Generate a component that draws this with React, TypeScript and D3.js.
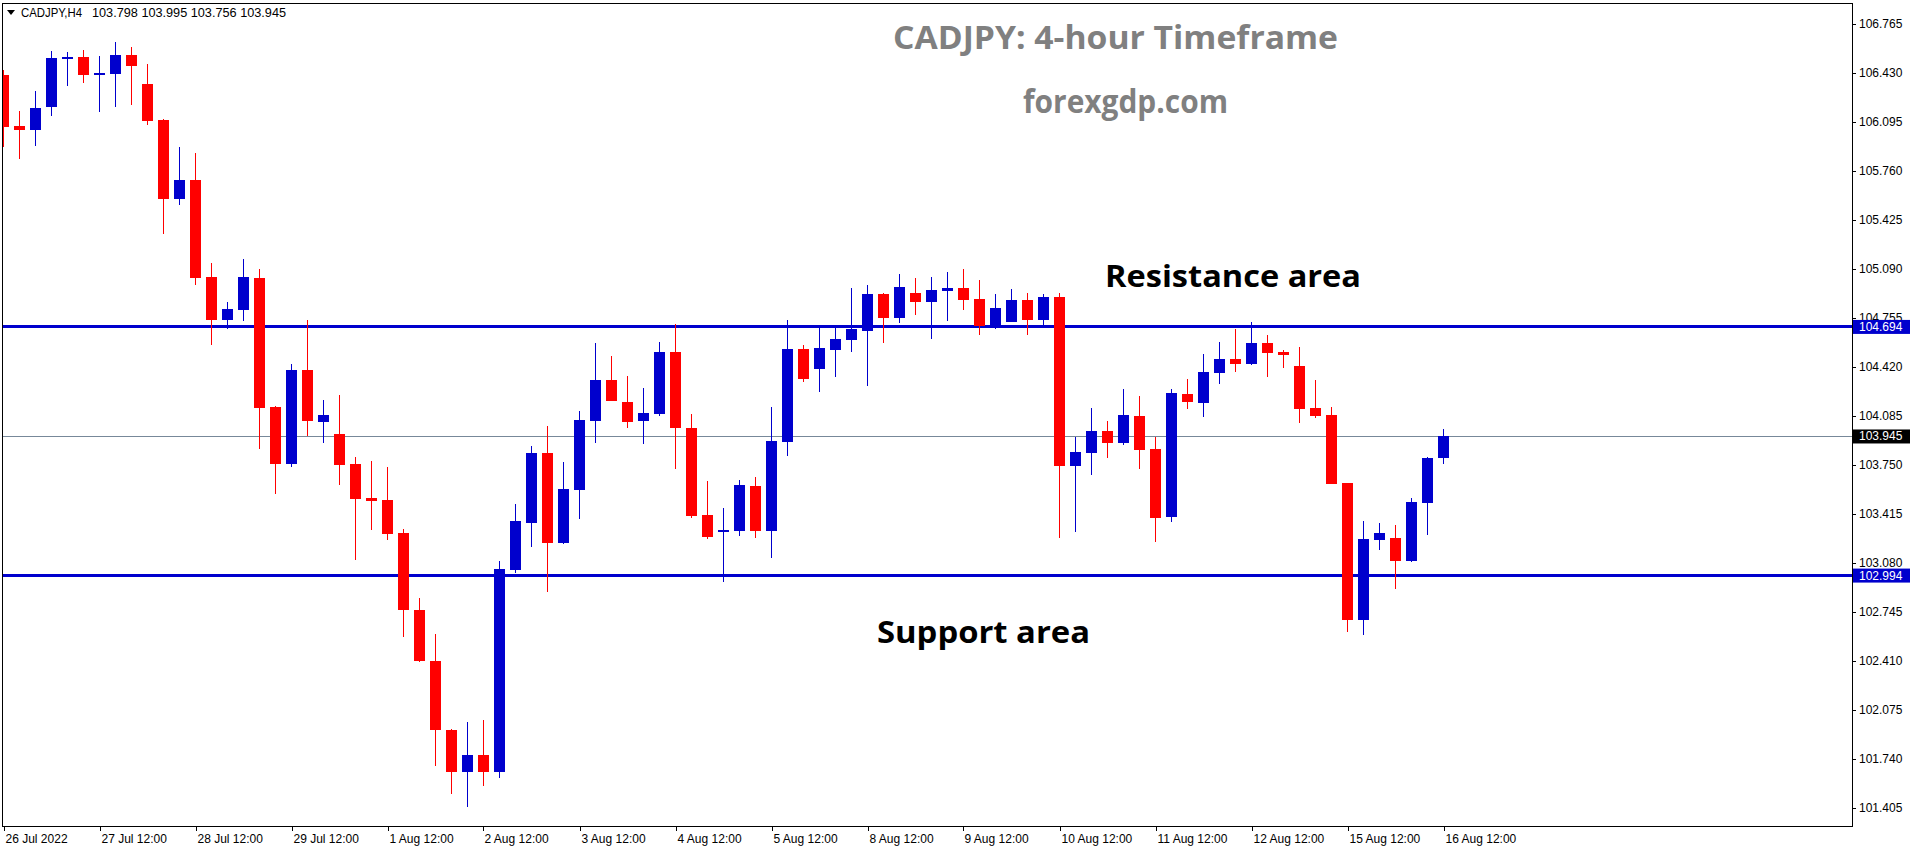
import React from "react";
import * as d3 from "d3";

// CADJPY H4 candles, 26 Jul 2022 12:00 .. 16 Aug 2022 12:00
const opens = [
  106.416, 106.068, 106.04, 106.198, 106.526, 106.539, 106.416, 106.423, 106.553, 106.355,
  106.109, 105.571, 105.699, 105.036, 104.744, 104.81, 105.029, 104.147, 103.76, 104.4,
  104.045, 103.963, 103.758, 103.525, 103.511, 103.286, 102.76, 102.411, 101.939, 101.654,
  101.768, 101.654, 103.035, 103.356, 103.833, 103.22, 103.582, 104.053, 104.332, 104.181,
  104.053, 104.101, 104.523, 104.004, 103.409, 103.295, 103.301, 103.607, 103.302, 103.91,
  104.544, 104.409, 104.539, 104.607, 104.669, 104.92, 104.758, 104.926, 104.867, 104.942,
  104.961, 104.885, 104.701, 104.73, 104.879, 104.742, 104.899, 103.746, 103.835, 103.983,
  103.903, 104.086, 103.86, 103.397, 104.236, 104.177, 104.382, 104.475, 104.443, 104.585,
  104.523, 104.427, 104.14, 104.092, 103.628, 102.689, 103.24, 103.252, 103.097, 103.493,
  103.798,
];
const highs = [
  106.451, 106.17, 106.307, 106.583, 106.574, 106.589, 106.546, 106.642, 106.608, 106.492,
  106.116, 105.924, 105.883, 105.131, 104.865, 105.159, 105.09, 104.154, 104.441, 104.742,
  104.195, 104.229, 103.805, 103.778, 103.737, 103.313, 102.842, 102.596, 101.946, 101.994,
  102.008, 103.095, 103.484, 103.881, 104.017, 103.771, 104.12, 104.585, 104.496, 104.359,
  104.277, 104.591, 104.714, 104.099, 103.641, 103.457, 103.648, 103.669, 104.147, 104.742,
  104.571, 104.696, 104.696, 104.961, 104.981, 104.925, 105.056, 105.029, 105.036, 105.07,
  105.09, 105.015, 104.92, 104.954, 104.926, 104.92, 104.926, 103.942, 104.14, 104.051,
  104.27, 104.222, 103.944, 104.27, 104.339, 104.509, 104.591, 104.68, 104.728, 104.639,
  104.537, 104.557, 104.332, 104.147, 103.63, 103.368, 103.354, 103.341, 103.525, 103.806,
  103.995,
];
const lows = [
  105.926, 105.842, 105.931, 106.136, 106.341, 106.362, 106.164, 106.198, 106.211, 106.075,
  105.33, 105.528, 104.981, 104.571, 104.68, 104.735, 103.86, 103.552, 103.737, 103.949,
  103.903, 103.616, 103.101, 103.306, 103.238, 102.575, 102.406, 101.689, 101.504, 101.415,
  101.552, 101.613, 103.013, 103.192, 102.885, 103.213, 103.384, 103.903, 104.188, 104.006,
  103.896, 104.088, 103.725, 103.39, 103.247, 102.953, 103.267, 103.254, 103.117, 103.812,
  104.32, 104.25, 104.354, 104.525, 104.293, 104.585, 104.723, 104.778, 104.614, 104.737,
  104.812, 104.641, 104.68, 104.728, 104.641, 104.708, 103.254, 103.295, 103.684, 103.8,
  103.889, 103.725, 103.226, 103.363, 104.136, 104.081, 104.306, 104.388, 104.436, 104.354,
  104.416, 104.04, 104.074, 103.62, 102.611, 102.591, 103.172, 102.905, 103.09, 103.274,
  103.756,
];
const closes = [
  106.063, 106.043, 106.191, 106.533, 106.541, 106.416, 106.43, 106.553, 106.478, 106.102,
  105.571, 105.699, 105.029, 104.744, 104.817, 105.036, 104.14, 103.76, 104.4, 104.051,
  104.092, 103.753, 103.52, 103.507, 103.281, 102.762, 102.413, 101.935, 101.654, 101.768,
  101.654, 103.04, 103.368, 103.833, 103.22, 103.587, 104.058, 104.332, 104.19, 104.047,
  104.106, 104.523, 104.006, 103.404, 103.261, 103.304, 103.614, 103.302, 103.915, 104.544,
  104.341, 104.55, 104.612, 104.68, 104.92, 104.758, 104.967, 104.867, 104.947, 104.961,
  104.881, 104.703, 104.824, 104.879, 104.742, 104.899, 103.746, 103.84, 103.983, 103.903,
  104.092, 103.855, 103.39, 104.243, 104.183, 104.386, 104.475, 104.443, 104.585, 104.518,
  104.505, 104.136, 104.088, 103.623, 102.689, 103.245, 103.286, 103.097, 103.498, 103.799,
  103.945,
];

const timeLabels = [
  "26 Jul 2022", "27 Jul 12:00", "28 Jul 12:00", "29 Jul 12:00", "1 Aug 12:00",
  "2 Aug 12:00", "3 Aug 12:00", "4 Aug 12:00", "5 Aug 12:00", "8 Aug 12:00",
  "9 Aug 12:00", "10 Aug 12:00", "11 Aug 12:00", "12 Aug 12:00", "15 Aug 12:00",
  "16 Aug 12:00",
];
const priceTicks = [
  106.765, 106.43, 106.095, 105.76, 105.425, 105.09, 104.755, 104.42, 104.085,
  103.75, 103.415, 103.08, 102.745, 102.41, 102.075, 101.74, 101.405,
];
const levels = [104.694, 102.994];
const lastPrice = 103.945;

const BULL = "#0000cd";
const BEAR = "#ff0000";
const axisFont = "'Liberation Sans', Arial, sans-serif";
const bigFont = "'Open Sans', 'Noto Sans', sans-serif";

const left = 2;
const top = 3;
const right = 1852;
const bottom = 826;

const App: React.FC = () => {
  const x = d3.scaleLinear().domain([0, 90]).range([3.5, 1443.5]);
  const y = d3.scaleLinear().domain([101.405, 106.765]).range([808, 24]);
  const bodyW = 11;

  const candles = opens.map((o, i) => ({
    i,
    o,
    h: highs[i],
    l: lows[i],
    c: closes[i],
  }));

  return (
    <svg
      width={1916}
      height={850}
      style={{ position: "absolute", left: 0, top: 0, background: "#fff" }}
    >
      <defs>
        <clipPath id="plot">
          <rect x={left + 1} y={top + 1} width={right - left - 1} height={bottom - top - 1} />
        </clipPath>
      </defs>
      <rect width={1916} height={850} fill="#fff" />

      {/* levels */}
      <g clipPath="url(#plot)" shapeRendering="crispEdges">
        <line x1={left} x2={right} y1={y(lastPrice)} y2={y(lastPrice)} stroke="#778899" strokeWidth={1} />
        {levels.map((lv) => (
          <line key={lv} x1={left} x2={right} y1={y(lv)} y2={y(lv)} stroke={BULL} strokeWidth={3} />
        ))}
      </g>

      {/* candles */}
      <g clipPath="url(#plot)" shapeRendering="crispEdges">
        {candles.map((d) => {
          const col = d.c >= d.o ? BULL : BEAR;
          const cx = x(d.i);
          const yTop = y(Math.max(d.o, d.c));
          const yBot = y(Math.min(d.o, d.c));
          return (
            <g key={d.i}>
              <line x1={cx} x2={cx} y1={y(d.h)} y2={y(d.l)} stroke={col} strokeWidth={1} />
              <rect
                x={cx - bodyW / 2}
                y={yTop}
                width={bodyW}
                height={Math.max(2, yBot - yTop)}
                fill={col}
              />
            </g>
          );
        })}
      </g>

      {/* frame */}
      <rect
        x={left + 0.5}
        y={top + 0.5}
        width={right - left}
        height={bottom - top - 0.5}
        fill="none"
        stroke="#000"
        strokeWidth={1}
        shapeRendering="crispEdges"
      />

      {/* price axis */}
      <g fontFamily={axisFont} fontSize={12} fill="#000">
        {priceTicks.map((p) => (
          <g key={p}>
            <line x1={right} x2={right + 4} y1={Math.round(y(p)) + 0.5} y2={Math.round(y(p)) + 0.5} stroke="#000" />
            <text x={1859} y={y(p)} dominantBaseline="central">
              {p.toFixed(3)}
            </text>
          </g>
        ))}
        {levels.map((lv) => (
          <g key={lv}>
            <rect x={1853} y={y(lv) - 7} width={57} height={14} fill={BULL} />
            <text x={1859} y={y(lv)} dominantBaseline="central" fill="#fff">
              {lv.toFixed(3)}
            </text>
          </g>
        ))}
        <rect x={1853} y={y(lastPrice) - 7} width={57} height={14} fill="#000" />
        <text x={1859} y={y(lastPrice)} dominantBaseline="central" fill="#fff">
          {lastPrice.toFixed(3)}
        </text>
      </g>

      {/* time axis */}
      <g fontFamily={axisFont} fontSize={12} fill="#000">
        {timeLabels.map((t, k) => {
          const tx = Math.round(x(k * 6)) + 0.5;
          return (
            <g key={t}>
              <line x1={tx} x2={tx} y1={bottom} y2={bottom + 5} stroke="#000" />
              <text x={tx + 1} y={843}>
                {t}
              </text>
            </g>
          );
        })}
      </g>

      {/* header */}
      <path d="M7,10 L15,10 L11,15 Z" fill="#000" />
      <g fontFamily={axisFont} fontSize={12} fill="#000">
        <text x={21} y={17} textLength={61} lengthAdjust="spacingAndGlyphs">
          CADJPY,H4
        </text>
        <text x={92} y={17} textLength={194} lengthAdjust="spacingAndGlyphs">
          {[opens[90], highs[90], lows[90], closes[90]].map((v) => v.toFixed(3)).join(" ")}
        </text>
      </g>

      {/* annotations */}
      <g fontFamily={bigFont} fontWeight={700}>
        <text x={893} y={48.5} fontSize={32} fill="#808080" textLength={445} lengthAdjust="spacingAndGlyphs">
          CADJPY: 4-hour Timeframe
        </text>
        <text x={1023} y={112.5} fontSize={32} fill="#808080" textLength={205} lengthAdjust="spacingAndGlyphs">
          forexgdp.com
        </text>
        <text x={1105} y={286.5} fontSize={30} fill="#000" textLength={256} lengthAdjust="spacingAndGlyphs">
          Resistance area
        </text>
        <text x={877} y={642.5} fontSize={30} fill="#000" textLength={213} lengthAdjust="spacingAndGlyphs">
          Support area
        </text>
      </g>
    </svg>
  );
};

export default App;
